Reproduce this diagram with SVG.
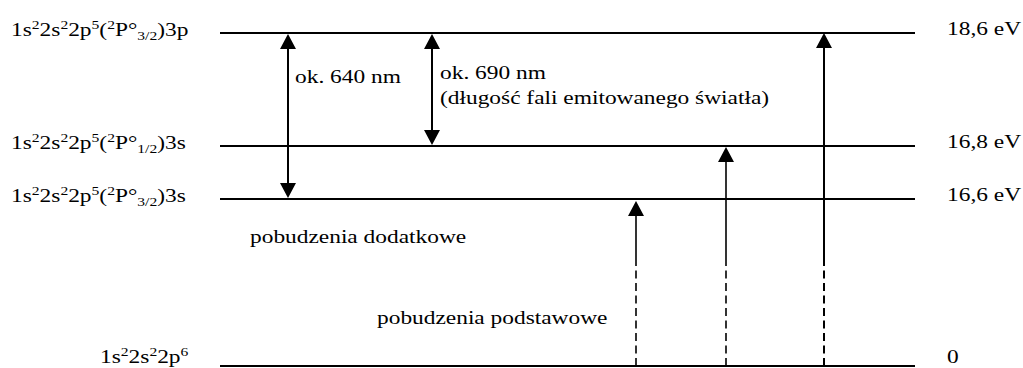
<svg xmlns="http://www.w3.org/2000/svg" width="1023" height="368" viewBox="0 0 1023 368">
<style>
text{font-family:"Liberation Serif","Times New Roman",serif;font-size:19.5px;fill:#000}
.s{font-size:13px}
.lvl{stroke:#000;stroke-width:2;fill:none}
.dbl{stroke:#000;stroke-width:2;fill:none}
.up{stroke:#000;stroke-width:1.6;fill:none}
.upb{stroke:#000;stroke-width:2;fill:none}
.dash{stroke-dasharray:8 4.5}
</style>
<defs>
<marker id="ah" markerUnits="userSpaceOnUse" markerWidth="15" markerHeight="16" refX="12" refY="8" orient="auto-start-reverse" viewBox="0 0 15 16">
<path d="M0,0 L15,8 L0,16 Z" fill="#000"/>
</marker>
</defs>
<rect width="1023" height="368" fill="#fff"/>
<g id="level-3p">
<line class="lvl" x1="220" y1="33" x2="915" y2="33"/>
<text transform="translate(11,36) scale(1.2,1)">1s<tspan class="s" dy="-7">2</tspan><tspan dy="7">2s</tspan><tspan class="s" dy="-7">2</tspan><tspan dy="7">2p</tspan><tspan class="s" dy="-7">5</tspan><tspan dy="7">(</tspan><tspan class="s" dy="-7">2</tspan><tspan dy="7">P°</tspan><tspan class="s" dy="4">3/2</tspan><tspan dy="-4">)3p</tspan></text>
<text transform="translate(947,35) scale(1.2,1)">18,6 eV</text>
</g>
<g id="level-3s-12">
<line class="lvl" x1="220" y1="146" x2="915" y2="146"/>
<text transform="translate(11,149) scale(1.2,1)">1s<tspan class="s" dy="-7">2</tspan><tspan dy="7">2s</tspan><tspan class="s" dy="-7">2</tspan><tspan dy="7">2p</tspan><tspan class="s" dy="-7">5</tspan><tspan dy="7">(</tspan><tspan class="s" dy="-7">2</tspan><tspan dy="7">P°</tspan><tspan class="s" dy="4">1/2</tspan><tspan dy="-4">)3s</tspan></text>
<text transform="translate(947,148) scale(1.2,1)">16,8 eV</text>
</g>
<g id="level-3s-32">
<line class="lvl" x1="220" y1="199" x2="915" y2="199"/>
<text transform="translate(11,202) scale(1.2,1)">1s<tspan class="s" dy="-7">2</tspan><tspan dy="7">2s</tspan><tspan class="s" dy="-7">2</tspan><tspan dy="7">2p</tspan><tspan class="s" dy="-7">5</tspan><tspan dy="7">(</tspan><tspan class="s" dy="-7">2</tspan><tspan dy="7">P°</tspan><tspan class="s" dy="4">3/2</tspan><tspan dy="-4">)3s</tspan></text>
<text transform="translate(947,201) scale(1.2,1)">16,6 eV</text>
</g>
<g id="level-ground">
<line class="lvl" x1="220" y1="366" x2="915" y2="366"/>
<text transform="translate(100,363) scale(1.2,1)">1s<tspan class="s" dy="-7">2</tspan><tspan dy="7">2s</tspan><tspan class="s" dy="-7">2</tspan><tspan dy="7">2p</tspan><tspan class="s" dy="-7">6</tspan></text>
<text transform="translate(947,363) scale(1.2,1)">0</text>
</g>
<g id="labels">
<text transform="translate(295,83) scale(1.2,1)">ok. 640 nm</text>
<text transform="translate(440,79) scale(1.2,1)">ok. 690 nm</text>
<text transform="translate(440,104) scale(1.2,1)">(długość fali emitowanego światła)</text>
<text transform="translate(250,243) scale(1.2,1)">pobudzenia dodatkowe</text>
<text transform="translate(377,324) scale(1.2,1)">pobudzenia podstawowe</text>
</g>
<g id="connectors">
<line class="dbl" x1="288" y1="37" x2="288" y2="195" marker-start="url(#ah)" marker-end="url(#ah)"/>
<line class="dbl" x1="432" y1="37" x2="432" y2="142" marker-start="url(#ah)" marker-end="url(#ah)"/>
<line class="up" x1="636" y1="262" x2="636" y2="204" marker-end="url(#ah)"/>
<line class="up dash" x1="636" y1="366" x2="636" y2="262"/>
<line class="up" x1="726" y1="262" x2="726" y2="150" marker-end="url(#ah)"/>
<line class="up dash" x1="726" y1="366" x2="726" y2="262"/>
<line class="upb" x1="824" y1="262" x2="824" y2="36" marker-end="url(#ah)"/>
<line class="upb dash" x1="824" y1="366" x2="824" y2="262"/>
</g>
</svg>
